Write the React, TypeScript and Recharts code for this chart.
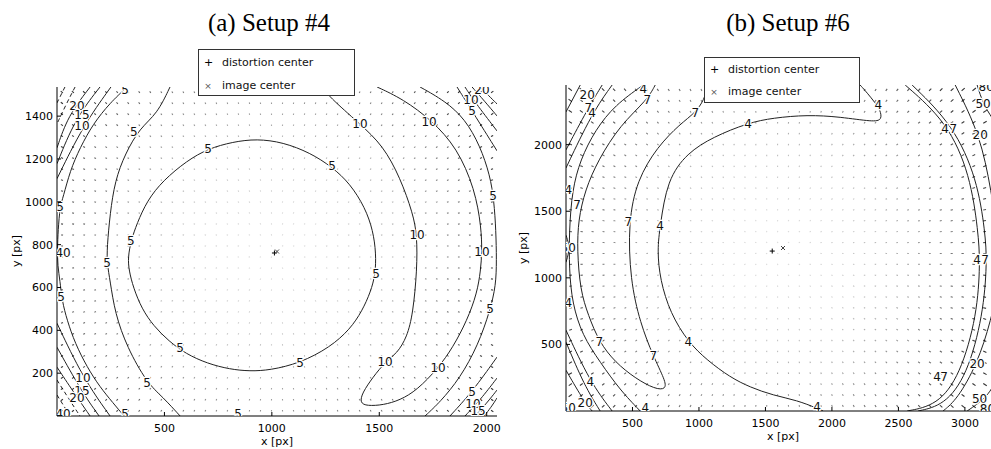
import React from 'react';
import { ComposedChart, Line, Scatter, XAxis, YAxis } from 'recharts';

type Pt = [number, number];
type Tag = [number, number, string];

// ---------- Setup #4 (2048 x 1536) ----------
const aTicksX = [500, 1000, 1500, 2000];
const aTicksY = [200, 400, 600, 800, 1000, 1200, 1400];
const aDistortionCenter: Pt = [1012, 761];
const aImageCenter: Pt = [1024, 768];

// closed level-5 ring around the center
const a5Inner: Pt[] = [
  [330, 740], [345, 820], [372, 898], [419, 1005], [493, 1099], [605, 1192], [703, 1248], [819, 1280],
  [930, 1294], [1052, 1278], [1178, 1229], [1280, 1163], [1364, 1085], [1434, 973], [1471, 866],
  [1485, 759], [1482, 661], [1460, 580], [1420, 490], [1364, 405], [1271, 321], [1131, 247], [992, 214],
  [898, 209], [805, 218], [700, 245], [600, 290], [520, 350], [450, 420], [395, 500], [355, 600],
  [335, 680],
];
const a5Mid: Pt[] = [
  [526, 1536], [466, 1410], [386, 1345], [317, 1224], [270, 1099], [247, 945], [233, 787], [233, 712],
  [247, 633], [270, 479], [326, 321], [419, 154], [493, 88], [573, 0],
];
const a5Edge: Pt[] = [
  [326, 1536], [247, 1462], [168, 1364], [107, 1252], [61, 1145], [28, 1019], [14, 978], [5, 866],
  [2, 780], [3, 700], [14, 633], [23, 540], [47, 447], [84, 340], [140, 228], [200, 135], [261, 61], [312, 0],
];
const a10Band: Pt[] = [
  [1238, 1536], [1262, 1494], [1410, 1364], [1518, 1262], [1597, 1113], [1657, 945], [1676, 843],
  [1676, 684], [1657, 479], [1629, 368], [1583, 293], [1527, 251], [1471, 182], [1420, 107], [1410, 61],
  [1443, 47], [1518, 51], [1597, 74], [1676, 121], [1774, 223], [1843, 321], [1909, 447], [1955, 573],
  [1972, 680], [1978, 768], [1975, 880], [1945, 1060], [1862, 1252], [1745, 1380], [1610, 1480], [1490, 1536],
];
const a5Right: Pt[] = [
  [1690, 1536], [1806, 1471], [1899, 1387], [1969, 1262], [2016, 1122], [2034, 1005], [2043, 866],
  [2046, 726], [2043, 610], [2016, 493], [1960, 331], [1876, 177], [1783, 65], [1713, 0],
];
const aCornerTR: Pt[][] = [
  [[1862, 1536], [1932, 1424], [2048, 1238]],
  [[1899, 1536], [1941, 1471], [2048, 1331]],
  [[1932, 1536], [1990, 1470], [2048, 1401]],
  [[1969, 1536], [2010, 1495], [2048, 1457]],
];
const aCornerBR: Pt[][] = [
  [[1829, 0], [1932, 112], [2048, 275]],
  [[1899, 0], [1969, 74], [2048, 177]],
  [[1946, 0], [2000, 60], [2048, 121]],
  [[1988, 0], [2020, 40], [2048, 84]],
];
const aCornerTL: Pt[][] = [
  [[251, 1536], [121, 1355], [0, 1108]],
  [[200, 1536], [84, 1387], [0, 1178]],
  [[154, 1536], [51, 1401], [0, 1252]],
];
const aCornerBL: Pt[][] = [
  [[0, 433], [121, 177], [247, 0]],
  [[0, 321], [116, 112], [196, 0]],
  [[0, 228], [93, 88], [154, 0]],
];
const aDashed: Pt[][] = [
  [[84, 1536], [40, 1450], [0, 1364]],
  [[37, 1536], [0, 1462]],
  [[0, 168], [55, 80], [107, 0]],
  [[0, 98], [61, 0]],
];
const aTags: Tag[] = [
  [703, 1248, '5'], [1280, 1168, '5'], [1485, 661, '5'], [1131, 247, '5'], [573, 317, '5'], [344, 815, '5'],
  [358, 1327, '5'], [233, 712, '5'], [419, 154, '5'],
  [317, 1520, '5'], [14, 978, '5'], [19, 554, '5'], [317, 10, '5'], [843, 10, '5'],
  [28, 763, '40'], [28, 10, '40'],
  [93, 1448, '20'], [116, 1406, '15'], [116, 1355, '10'],
  [121, 177, '10'], [116, 116, '15'], [93, 84, '20'],
  [1410, 1364, '10'], [1676, 843, '10'], [1527, 251, '10'], [1732, 1373, '10'], [1978, 768, '10'], [1774, 223, '10'],
  [2030, 1029, '5'], [2016, 498, '5'],
  [1932, 1424, '5'], [1927, 1476, '10'], [1978, 1522, '20'],
  [1932, 112, '5'], [1936, 56, '10'], [1960, 23, '15'],
];

// ---------- Setup #6 (3264 x 2448) ----------
const bTicksX = [500, 1000, 1500, 2000, 2500, 3000];
const bTicksY = [500, 1000, 1500, 2000];
const bDistortionCenter: Pt = [1551, 1201];
const bImageCenter: Pt = [1632, 1224];

const b4Inner: Pt[] = [
  [2212, 2448], [2265, 2389], [2325, 2314], [2363, 2261], [2378, 2186], [2310, 2171], [2062, 2209],
  [1814, 2224], [1558, 2201], [1370, 2164], [1107, 2058], [911, 1938], [761, 1735], [708, 1389],
  [686, 1208], [708, 983], [784, 735], [919, 517], [1062, 381], [1235, 253], [1385, 178], [1558, 118],
  [1739, 80], [1889, 20], [1934, 0],
];
const b7Banana: Pt[] = [
  [671, 2448], [611, 2336], [408, 2148], [242, 1885], [144, 1660], [92, 1434], [84, 1208], [107, 908],
  [167, 720], [250, 517], [370, 366], [520, 246], [671, 163], [753, 163], [746, 231], [656, 411],
  [558, 660], [483, 983], [468, 1419], [535, 1735], [686, 1983], [859, 2156], [972, 2239], [1039, 2336],
  [1069, 2448],
];
const b4Left: Pt[] = [
  [581, 2448], [370, 2299], [220, 2111], [107, 1885], [47, 1660], [24, 1359], [24, 1058], [47, 810],
  [122, 569], [257, 366], [408, 156], [558, 0],
];
const bLeftEdge: Pt[][] = [
  [[107, 2448], [0, 2246]],
  [[272, 2448], [167, 2276], [0, 1961]],
  [[347, 2448], [197, 2239], [0, 1825]],
  [[0, 607], [182, 216], [347, 0]],
  [[0, 517], [137, 193], [257, 0]],
  [[0, 306], [144, 58], [197, 0]],
  [[0, 1320], [32, 1224], [0, 1117]],
];
const bRight4: Pt[] = [
  [2551, 2448], [2867, 2171], [3040, 1772], [3100, 1344], [3115, 1118], [3092, 720], [2964, 268], [2791, 43], [2566, 0],
];
const bRight7: Pt[] = [
  [2603, 2448], [2912, 2148], [3092, 1742], [3152, 1344], [3167, 1118], [3137, 720], [3017, 268], [2844, 43], [2648, 0],
];
const bRight20Top: Pt[] = [[2927, 2448], [3115, 2073], [3197, 1658], [3264, 1224]];
const bRight20Bottom: Pt[] = [[3264, 1000], [3197, 680], [3092, 351], [2942, 88], [2836, 0]];
const bRight50Top: Pt[] = [[3092, 2448], [3137, 2306], [3205, 2200], [3264, 2110]];
const bRight50Bottom: Pt[] = [[3264, 304], [3190, 118], [3017, 0]];
const bRight80: Pt[][] = [
  [[3160, 2448], [3264, 2336]],
  [[3264, 118], [3152, 0]],
];
const bTags: Tag[] = [
  [581, 2420, '4'], [611, 2336, '7'], [972, 2239, '7'], [1370, 2156, '4'], [2348, 2299, '4'],
  [159, 2374, '20'], [167, 2276, '7'], [197, 2239, '4'], [17, 1659, '4'], [84, 1547, '7'],
  [468, 1420, '7'], [708, 1389, '4'], [17, 1224, '50'], [17, 809, '4'], [250, 517, '7'],
  [656, 412, '7'], [919, 517, '4'], [182, 216, '4'], [144, 58, '20'], [17, 20, '50'], [596, 20, '4'],
  [1889, 28, '4'],
  [2851, 2118, '4'], [2912, 2118, '7'], [3092, 1133, '4'], [3152, 1133, '7'], [2791, 253, '4'], [2844, 253, '7'],
  [3115, 2073, '20'], [3092, 351, '20'], [3137, 2306, '50'], [3110, 90, '50'], [3160, 2430, '80'], [3170, 15, '80'],
];

const legendItems = ['distortion center', 'image center'];

const toXY = (pts: Pt[]) => pts.map(([x, y]) => ({ x, y }));
const toTags = (tags: Tag[]) => tags.map(([x, y, t]) => ({ x, y, t }));

// sample grid for the residual arrows, pointing away from the distortion center
function buildQuiver(w: number, h: number, cols: number, rows: number, c: Pt, reach: number, gain: number, cap: number) {
  const out: any[] = [];
  for (let i = 0; i < cols; i++) {
    for (let j = 0; j < rows; j++) {
      const x = ((i + 0.5) * w) / cols;
      const y = ((j + 0.5) * h) / rows;
      const dx = x - c[0];
      const dy = y - c[1];
      const r = Math.hypot(dx, dy) || 1;
      const k = r / reach;
      out.push({
        x, y, ux: dx / r, uy: -dy / r,
        len: Math.min(cap, 0.3 + gain * k ** 4),
        op: Math.min(0.8, 0.14 + 0.85 * k * k),
      });
    }
  }
  return out;
}

const INK = '#222';
const FONT = "'DejaVu Sans', sans-serif";

const QuiverMark = (p: any) => {
  const { cx, cy, payload } = p;
  return (
    <line x1={cx} y1={cy} x2={cx + payload.ux * payload.len} y2={cy + payload.uy * payload.len}
      stroke="#000" strokeOpacity={payload.op} strokeWidth={1.1} strokeLinecap="square" />
  );
};

const ContourTag = (p: any) => (
  <text x={p.cx} y={p.cy} textAnchor="middle" dominantBaseline="central" fontSize={12} fontFamily={FONT}
    fill="#111" stroke="#fff" strokeWidth={2.5} paintOrder="stroke" strokeLinejoin="round">
    {p.payload.t}
  </text>
);

const PlusMark = (p: any) => (
  <g stroke="#000" strokeWidth={1}>
    <line x1={p.cx - 2.5} y1={p.cy} x2={p.cx + 2.5} y2={p.cy} />
    <line x1={p.cx} y1={p.cy - 2.5} x2={p.cx} y2={p.cy + 2.5} />
  </g>
);

const CrossMark = (p: any) => (
  <g stroke="#444" strokeWidth={1}>
    <line x1={p.cx - 2} y1={p.cy - 2} x2={p.cx + 2} y2={p.cy + 2} />
    <line x1={p.cx - 2} y1={p.cy + 2} x2={p.cx + 2} y2={p.cy - 2} />
  </g>
);

const BottomTick = (p: any) => (
  <g>
    <line x1={p.x} y1={p.y} x2={p.x} y2={p.y - 4} stroke="#000" />
    <text x={p.x} y={p.y + 15.5} textAnchor="middle" fontSize={11} fontFamily={FONT} fill="#000">{p.payload.value}</text>
  </g>
);
const LeftTick = (p: any) => (
  <g>
    <line x1={p.x} y1={p.y} x2={p.x + 4} y2={p.y} stroke="#000" />
    <text x={p.x - 4} y={p.y + 4} textAnchor="end" fontSize={11} fontFamily={FONT} fill="#000">{p.payload.value}</text>
  </g>
);
const TopTick = (p: any) => <line x1={p.x} y1={p.y} x2={p.x} y2={p.y + 4} stroke="#000" />;
const RightTick = (p: any) => <line x1={p.x} y1={p.y} x2={p.x - 4} y2={p.y} stroke="#000" />;

interface PanelProps {
  left: number;
  width: number;
  margin: { top: number; right: number; bottom: number; left: number };
  yAxisWidth: number;
  xAxisHeight: number;
  w: number;
  h: number;
  ticksX: number[];
  ticksY: number[];
  closed: Pt[][];
  solid: Pt[][];
  dashed: Pt[][];
  tags: Tag[];
  quiver: any[];
  dc: Pt;
  ic: Pt;
}

const Panel = (p: PanelProps) => (
  <div style={{ position: 'absolute', left: p.left, top: 0 }}>
    <ComposedChart width={p.width} height={449} margin={p.margin}>
      <XAxis xAxisId={0} type="number" dataKey="x" domain={[0, p.w]} ticks={p.ticksX} allowDataOverflow
        height={p.xAxisHeight} interval={0} tickSize={0} tickMargin={0} tickLine={false}
        axisLine={{ stroke: '#000' }} tick={<BottomTick />} />
      <XAxis xAxisId="top" orientation="top" type="number" dataKey="x" domain={[0, p.w]} ticks={p.ticksX}
        allowDataOverflow height={0} interval={0} tickSize={0} tickMargin={0} tickLine={false}
        axisLine={{ stroke: '#000' }} tick={<TopTick />} />
      <YAxis yAxisId={0} type="number" dataKey="y" domain={[0, p.h]} ticks={p.ticksY} allowDataOverflow
        width={p.yAxisWidth} interval={0} tickSize={0} tickMargin={0} tickLine={false}
        axisLine={{ stroke: '#000' }} tick={<LeftTick />} />
      <YAxis yAxisId="right" orientation="right" type="number" dataKey="y" domain={[0, p.h]} ticks={p.ticksY}
        allowDataOverflow width={0} interval={0} tickSize={0} tickMargin={0} tickLine={false}
        axisLine={{ stroke: '#000' }} tick={<RightTick />} />
      <Scatter data={p.quiver} dataKey="y" shape={<QuiverMark />} isAnimationActive={false} />
      {p.closed.map((c, i) => (
        <Line key={`c${i}`} data={toXY(c)} dataKey="y" type="basisClosed" dot={false} activeDot={false}
          stroke={INK} strokeWidth={1} isAnimationActive={false} />
      ))}
      {p.solid.map((c, i) => (
        <Line key={`s${i}`} data={toXY(c)} dataKey="y" type="basis" dot={false} activeDot={false}
          stroke={INK} strokeWidth={1} isAnimationActive={false} />
      ))}
      {p.dashed.map((c, i) => (
        <Line key={`d${i}`} data={toXY(c)} dataKey="y" type="basis" dot={false} activeDot={false}
          stroke={INK} strokeWidth={1} strokeDasharray="4 3" isAnimationActive={false} />
      ))}
      <Scatter data={toTags(p.tags)} dataKey="y" shape={<ContourTag />} isAnimationActive={false} />
      <Scatter data={toXY([p.dc])} dataKey="y" shape={<PlusMark />} isAnimationActive={false} />
      <Scatter data={toXY([p.ic])} dataKey="y" shape={<CrossMark />} isAnimationActive={false} />
    </ComposedChart>
  </div>
);

const LegendBox = ({ left, top, width, height, rows }: { left: number; top: number; width: number; height: number; rows: number[] }) => (
  <div style={{
    position: 'absolute', left, top, width, height, boxSizing: 'border-box', border: '1px solid #333',
    background: '#fff', fontFamily: FONT, fontSize: 11, color: '#111',
  }}>
    {legendItems.map((name, i) => (
      <div key={name} style={{ position: 'absolute', left: 0, top: rows[i] - 7, height: 14, lineHeight: '14px', whiteSpace: 'nowrap' }}>
        <span style={{ position: 'absolute', left: 5, width: 8, textAlign: 'center', fontSize: i === 0 ? 11 : 9, color: i === 0 ? '#000' : '#555' }}>
          {i === 0 ? '+' : '×'}
        </span>
        <span style={{ position: 'absolute', left: 23 }}>{name}</span>
      </div>
    ))}
  </div>
);

export default function App() {
  const quiverA = buildQuiver(2048, 1536, 40, 30, aDistortionCenter, 1280, 1.6, 2.5);
  const quiverB = buildQuiver(3264, 2448, 40, 30, bDistortionCenter, 2000, 3.5, 3.5);
  return (
    <div style={{ position: 'fixed', left: 0, top: 0, width: 991, height: 449, overflow: 'hidden', background: '#fff' }}>
      <Panel left={0} width={520} margin={{ top: 87, right: 23, bottom: 0, left: 0 }} yAxisWidth={57} xAxisHeight={33}
        w={2048} h={1536} ticksX={aTicksX} ticksY={aTicksY} closed={[a5Inner]}
        solid={[a5Mid, a5Edge, a10Band, a5Right, ...aCornerTR, ...aCornerBR, ...aCornerTL, ...aCornerBL]}
        dashed={aDashed} tags={aTags} quiver={quiverA} dc={aDistortionCenter} ic={aImageCenter} />
      <Panel left={508} width={500} margin={{ top: 85, right: 8, bottom: 0, left: 0 }} yAxisWidth={58} xAxisHeight={38}
        w={3264} h={2448} ticksX={bTicksX} ticksY={bTicksY} closed={[]}
        solid={[b4Inner, b7Banana, b4Left, ...bLeftEdge, bRight4, bRight7, bRight20Top, bRight20Bottom, bRight50Top, bRight50Bottom, ...bRight80]}
        dashed={[]} tags={bTags} quiver={quiverB} dc={bDistortionCenter} ic={bImageCenter} />
      <svg width={991} height={449} style={{ position: 'absolute', left: 0, top: 0, pointerEvents: 'none' }}>
        <text x={269} y={31} textAnchor="middle" fontFamily="'Liberation Serif', serif" fontSize={25} fill="#000">(a) Setup #4</text>
        <text x={788} y={31} textAnchor="middle" fontFamily="'Liberation Serif', serif" fontSize={25} fill="#000">(b) Setup #6</text>
        <text x={277} y={445} textAnchor="middle" fontFamily={FONT} fontSize={11} fill="#000">x [px]</text>
        <text x={783} y={440} textAnchor="middle" fontFamily={FONT} fontSize={11} fill="#000">x [px]</text>
        <text transform="translate(20,251) rotate(-90)" textAnchor="middle" fontFamily={FONT} fontSize={11} fill="#000">y [px]</text>
        <text transform="translate(527,248) rotate(-90)" textAnchor="middle" fontFamily={FONT} fontSize={11} fill="#000">y [px]</text>
      </svg>
      <LegendBox left={198} top={49} width={157} height={47} rows={[13, 36]} />
      <LegendBox left={704} top={57} width={156} height={46} rows={[12, 34]} />
    </div>
  );
}
